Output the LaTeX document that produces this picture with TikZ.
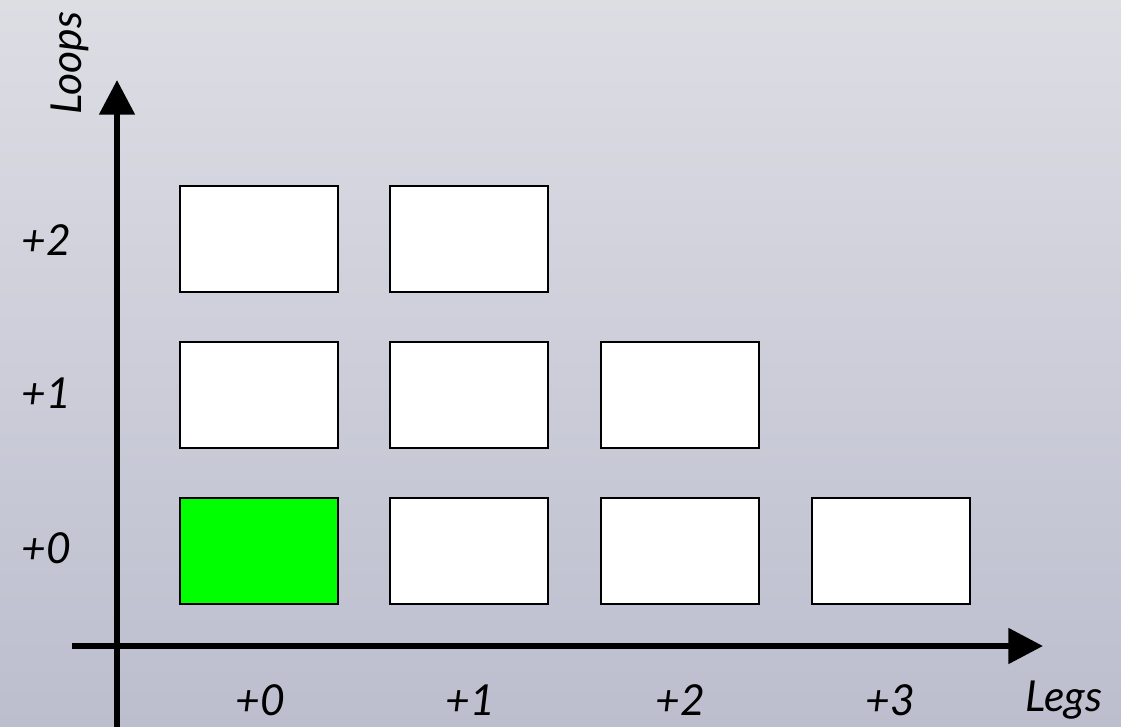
\documentclass[tikz,border=0pt]{standalone}
\usepackage{fontspec}
\setmainfont{Lato}
\usetikzlibrary{arrows.meta}
\definecolor{bgtop}{RGB}{221,221,228}
\definecolor{bgbot}{RGB}{188,190,206}
\definecolor{higreen}{RGB}{0,255,0}
\tikzset{
  cell/.style={draw=black, line width=1.5pt, fill=white, minimum width=118.5pt, minimum height=79pt, inner sep=0pt},
  axis/.style={line width=4.5pt, -{Triangle[width=26pt,length=26pt]}},
  lbl/.style={font=\fontsize{32}{36}\selectfont\itshape, inner sep=0pt},
}
\begin{document}
\begin{tikzpicture}[x=0.75pt,y=-0.75pt]
\shade[top color=bgtop, bottom color=bgbot] (0,0) rectangle (1121,726);
\useasboundingbox (0,0) rectangle (1121,726);
% cells
\node[cell, fill=higreen] (c00) at (259,551) {};
\node[cell] (c10) at (469,551) {};
\node[cell] (c20) at (680,551) {};
\node[cell] (c30) at (891,551) {};
\node[cell] (c01) at (259,395) {};
\node[cell] (c11) at (469,395) {};
\node[cell] (c21) at (680,395) {};
\node[cell] (c02) at (259,239) {};
\node[cell] (c12) at (469,239) {};
% axes
\coordinate (ybot) at (117,757);
\coordinate (ytop) at (117,80);
\coordinate (xl) at (72,646);
\coordinate (xr) at (1043,646);
\draw[axis] (ybot) -- (ytop);
\draw[axis] (xl) -- (xr);
% labels
\node[lbl, rotate=90] (loops) at (70,63) {Loops};
\node[lbl] (legs) at (1064,700) {Legs};
\node[lbl] (x0) at (260,700) {+0};
\node[lbl] (x1) at (470,700) {+1};
\node[lbl] (x2) at (680,700) {+2};
\node[lbl] (x3) at (890,700) {+3};
\node[lbl] (y2) at (46,240) {+2};
\node[lbl] (y1) at (46,393) {+1};
\node[lbl] (y0) at (46,548) {+0};
\end{tikzpicture}
\end{document}
